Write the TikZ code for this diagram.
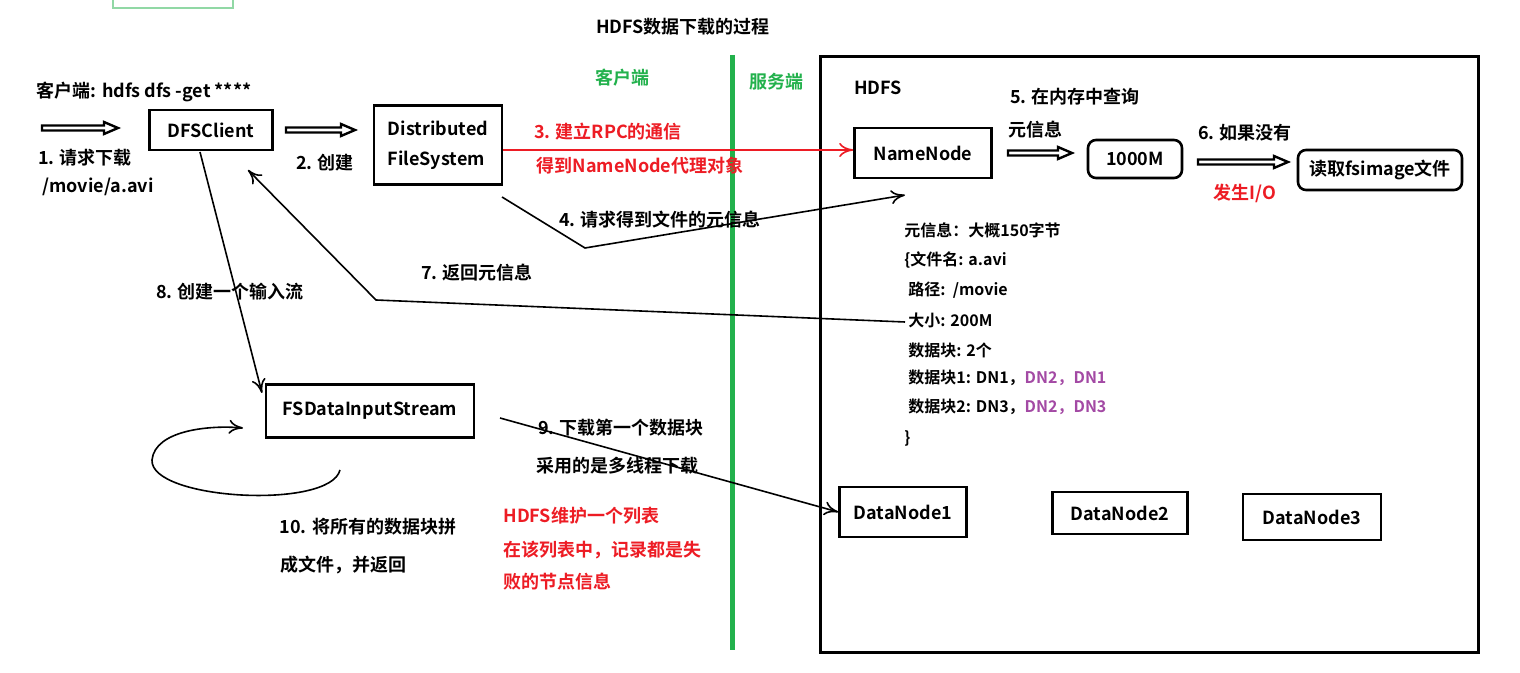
\documentclass[tikz,border=0pt]{standalone}
\usepackage{fontspec}
\setmainfont{Noto Sans CJK SC}[BoldFont={* Bold}]
\usetikzlibrary{arrows.meta}
\definecolor{grn}{RGB}{34,177,76}
\definecolor{pur}{RGB}{163,73,164}
\definecolor{rd}{RGB}{237,28,36}
\newcommand{\hollowarr}[3]{\draw[line width=1.2pt,line join=miter] (#1,#3-2.5)--(#2-14,#3-2.5)--(#2-14,#3-6)--(#2,#3)--(#2-14,#3+6)--(#2-14,#3+2.5)--(#1,#3+2.5)--cycle;}
\begin{document}
\begin{tikzpicture}[x=0.5pt,y=-0.5pt,
 every node/.style={font=\fontsize{9}{11}\selectfont\bfseries,inner sep=0pt},
 box/.style={draw,line width=1.3pt,inner sep=2pt},
 rbox/.style={box,rounded corners=4pt},
 conn/.style={line width=0.8pt,-{To[length=7pt,width=7pt]}}]
\useasboundingbox (0,0) rectangle (1520,673);
\fill[white] (0,0) rectangle (1520,673);
\draw[grn!50,line width=0.6pt] (113,-2) rectangle (233,8);
\node (title) at (683,27) {HDFS数据下载的过程};
\node[text=grn] (ck) at (622,78) {客户端};
\node[text=grn] (sk) at (776,82) {服务端};
\draw[grn,line width=2.5pt] (732,55) -- (732,650);
\draw[line width=1.5pt] (820,57) rectangle (1478,652);
\node (hdfs) at (878,88) {HDFS};
\node (cmd) at (144,92) {客户端: hdfs dfs -get ****};
\hollowarr{42}{118}{128}
\node (t1a) at (85,158) {1. 请求下载};
\node (t1b) at (98,187) {/movie/a.avi};
\node[box,minimum width=61.5,minimum height=20] (dfc) at (211,130) {DFSClient};
\hollowarr{286}{355}{130}
\node (t2) at (325,163) {2. 创建};
\node[box,minimum width=64,minimum height=39.5,align=left] (dfs) at (438,145) {Distributed\\[4pt]FileSystem};
\node[box,minimum width=68.5,minimum height=25] (nn) at (923,153) {NameNode};
\draw[conn,rd] (dfs.east|-0,150) -- (nn.west|-0,150);
\node[text=rd] (t3a) at (608,132) {3. 建立RPC的通信};
\node[text=rd] (t3b) at (640,166) {得到NameNode代理对象};
\hollowarr{1008}{1072}{153}
\node (t5a) at (1075,97) {5. 在内存中查询};
\node (t5b) at (1035,130) {元信息};
\node[rbox,minimum width=47,minimum height=19] (m) at (1135,159) {1000M};
\hollowarr{1198}{1288}{162}
\node (t6) at (1245,133) {6. 如果没有};
\node[text=rd] (io) at (1245,193) {发生I/O};
\node[rbox,minimum width=82,minimum height=20] (fs) at (1380,170) {读取fsimage文件};
\coordinate (c4a) at (502,197);
\coordinate (c4b) at (585,248);
\draw[conn] (c4a) -- (c4b) -- (905,195);
\node (t4) at (660,220) {4. 请求得到文件的元信息};
\coordinate (c7a) at (905,322);
\coordinate (c7b) at (376,300);
\draw[conn] (c7a) -- (c7b) -- (248,170);
\node (t7) at (477,273) {7. 返回元信息};
\node[box,minimum width=104,minimum height=26.5] (fis) at (370,411) {FSDataInputStream};
\draw[conn] (200,152) -- (262,393);
\node (t8) at (230,292) {8. 创建一个输入流};
\draw[conn] (340,470) .. controls (330,510) and (150,500) .. (152,460) .. controls (155,430) and (210,425) .. (243,428);
\node (t10a) at (368,527) {10. 将所有的数据块拼};
\node (t10b) at (343,565) {成文件，并返回};
\node[box,minimum width=63.5,minimum height=25] (d1) at (903,512) {DataNode1};
\node[box,minimum width=67.5,minimum height=21] (d2) at (1120,513) {DataNode2};
\node[box,minimum width=69,minimum height=23] (d3) at (1312,517) {DataNode3};
\draw[conn] (500,418) -- (d1.west);
\node (t9a) at (621,428) {9. 下载第一个数据块};
\node (t9b) at (617,466) {采用的是多线程下载};
\node[text=rd,anchor=west] (r1) at (503,516) {HDFS维护一个列表};
\node[text=rd,anchor=west] (r2) at (503,550) {在该列表中，记录都是失};
\node[text=rd,anchor=west] (r3) at (503,582) {败的节点信息};
\begin{scope}[every node/.append style={anchor=west,font=\fontsize{8}{10}\selectfont\bfseries}]
\node (a1) at (904,230) {元信息：大概150字节};
\node (a2) at (904,260) {\{文件名: a.avi};
\node (a3) at (908,290) {路径:\ \ /movie};
\node (a4) at (908,320) {大小: 200M};
\node (a5) at (908,350) {数据块: 2个};
\node (a6) at (908,378) {数据块1: DN1，\textcolor{pur}{DN2，DN1}};
\node (a7) at (908,407) {数据块2: DN3，\textcolor{pur}{DN2，DN3}};
\node (a8) at (904,438) {\}};
\end{scope}
\end{tikzpicture}
\end{document}
